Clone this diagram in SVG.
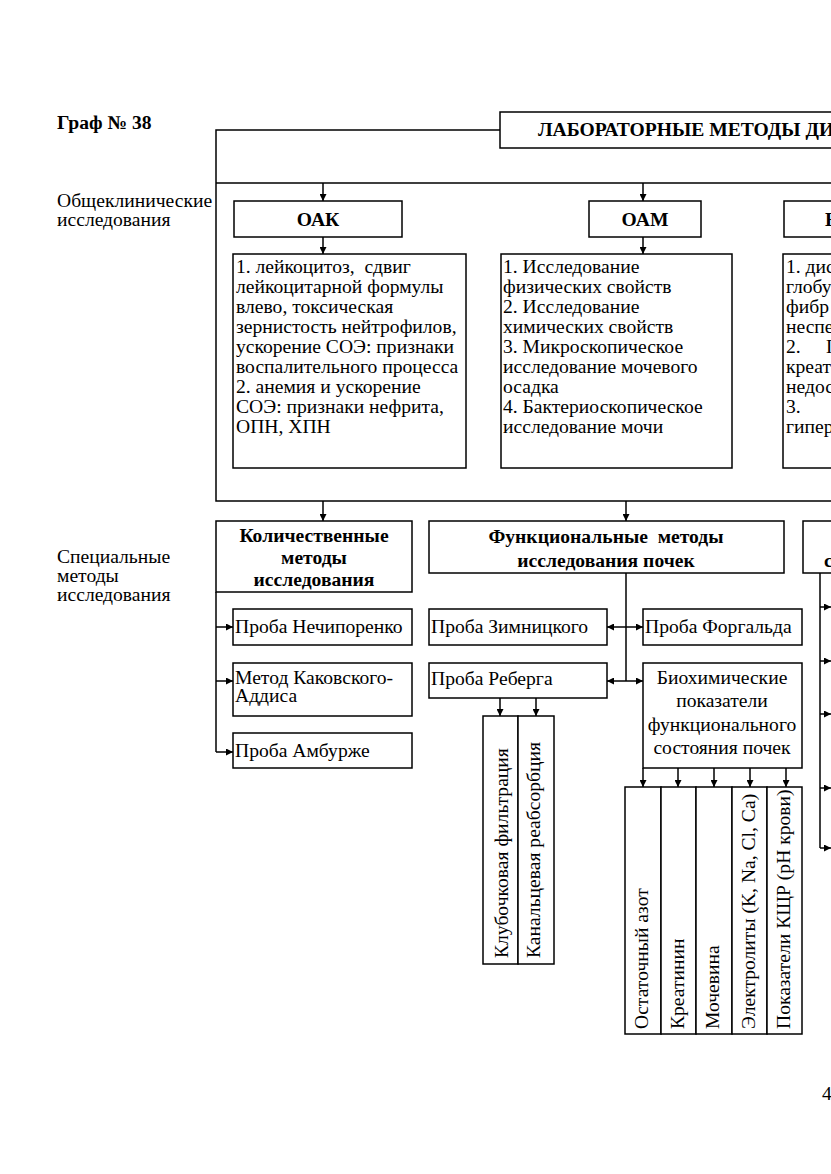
<svg xmlns="http://www.w3.org/2000/svg" width="831" height="1174" viewBox="0 0 831 1174" font-family="'Liberation Serif', 'Times New Roman', serif">
<defs>
<marker id="ah" viewBox="0 0 8 8" refX="8" refY="4" markerWidth="8" markerHeight="7" markerUnits="userSpaceOnUse" orient="auto-start-reverse"><path d="M0,0 L8,4 L0,8 z" fill="#000"/></marker>
</defs>
<style>
text{font-family:"Liberation Serif","Times New Roman",serif;font-size:19.6px;fill:#000}
.b{font-weight:bold}
.c{text-anchor:middle}
.box{fill:#fff;stroke:#000;stroke-width:1.5}
.ln{fill:none;stroke:#000;stroke-width:1.5}
.ar{marker-end:url(#ah)}
.da{marker-start:url(#ah);marker-end:url(#ah)}
</style>
<rect width="831" height="1174" fill="#fff"/>
<text class="b" x="57" y="129">Граф № 38</text>
<g id="labels">
<text x="57" y="207">Общеклинические</text>
<text x="57" y="226">исследования</text>
<text x="57" y="563">Специальные</text>
<text x="57" y="582">методы</text>
<text x="57" y="601">исследования</text>
</g>
<g id="connectors">
<path class="ln" d="M500,130 H216 V501 H840 M216,183 H840"/>
<path class="ln ar" d="M323,183 V201"/>
<path class="ln ar" d="M643,183 V201"/>
<path class="ln ar" d="M323,237 V254"/>
<path class="ln ar" d="M643,237 V254"/>
<path class="ln ar" d="M323,501 V521"/>
<path class="ln ar" d="M626,501 V521"/>
<path class="ln" d="M216,592 V752"/>
<path class="ln ar" d="M216,627 H233"/>
<path class="ln ar" d="M216,681 H233"/>
<path class="ln ar" d="M216,752 H233"/>
<path class="ln" d="M626,573 V681"/>
<path class="ln da" d="M607,627 H643"/>
<path class="ln da" d="M607,681 H643"/>
<path class="ln ar" d="M500,698 V716"/>
<path class="ln ar" d="M536,698 V716"/>
<path class="ln ar" d="M643,768 V787"/>
<path class="ln ar" d="M678,768 V787"/>
<path class="ln ar" d="M714,768 V787"/>
<path class="ln ar" d="M750,768 V787"/>
<path class="ln ar" d="M786,768 V787"/>
<path class="ln" d="M820,573 V848"/>
<path class="ln ar" d="M820,607 H831"/>
<path class="ln ar" d="M820,661 H831"/>
<path class="ln ar" d="M820,714 H831"/>
<path class="ln ar" d="M820,788 H831"/>
<path class="ln ar" d="M820,848 H831"/>
</g>
<g id="main">
<rect class="box" x="500" y="112" width="360" height="36"/>
<text class="b" x="538" y="136">ЛАБОРАТОРНЫЕ МЕТОДЫ ДИ</text>
</g>
<g id="oak">
<rect class="box" x="234" y="201" width="168" height="36"/>
<text class="b c" x="318" y="226">ОАК</text>
</g>
<g id="oam">
<rect class="box" x="589" y="201" width="112" height="36"/>
<text class="b c" x="645" y="226">ОАМ</text>
</g>
<g id="bak">
<rect class="box" x="784" y="201" width="120" height="36"/>
<text class="b" x="825" y="226">Б</text>
</g>
<g id="oak-details">
<rect class="box" x="233" y="254" width="233" height="214"/>
<text x="236" y="273">1. лейкоцитоз,&#160; сдвиг</text>
<text x="236" y="293">лейкоцитарной формулы</text>
<text x="236" y="313">влево, токсическая</text>
<text x="236" y="333">зернистость нейтрофилов,</text>
<text x="236" y="353">ускорение СОЭ: признаки</text>
<text x="236" y="373">воспалительного процесса</text>
<text x="236" y="393">2. анемия и ускорение</text>
<text x="236" y="413">СОЭ: признаки нефрита,</text>
<text x="236" y="433">ОПН, ХПН</text>
</g>
<g id="oam-details">
<rect class="box" x="501" y="254" width="231" height="214"/>
<text x="503" y="273">1. Исследование</text>
<text x="503" y="293">физических свойств</text>
<text x="503" y="313">2. Исследование</text>
<text x="503" y="333">химических свойств</text>
<text x="503" y="353">3. Микроскопическое</text>
<text x="503" y="373">исследование мочевого</text>
<text x="503" y="393">осадка</text>
<text x="503" y="413">4. Бактериоскопическое</text>
<text x="503" y="433">исследование мочи</text>
</g>
<g id="bak-details">
<rect class="box" x="783" y="254" width="80" height="214"/>
<text x="786" y="273">1. дис</text>
<text x="786" y="293">глобу</text>
<text x="786" y="313">фибр</text>
<text x="786" y="333">неспе</text>
<text x="786" y="353">2.</text>
<text x="826" y="353">П</text>
<text x="786" y="373">креат</text>
<text x="786" y="393">недос</text>
<text x="786" y="413">3.</text>
<text x="786" y="433">гипер</text>
</g>
<g id="quant">
<rect class="box" x="216" y="521" width="196" height="71"/>
<text class="b c" x="314" y="542">Количественные</text>
<text class="b c" x="314" y="564">методы</text>
<text class="b c" x="314" y="586">исследования</text>
</g>
<g id="nechiporenko">
<rect class="box" x="233" y="609" width="179" height="36"/>
<text x="235" y="633">Проба Нечипоренко</text>
</g>
<g id="kakovsky">
<rect class="box" x="233" y="663" width="179" height="53"/>
<text x="235" y="684">Метод Каковского-</text>
<text x="235" y="702">Аддиса</text>
</g>
<g id="amburzhe">
<rect class="box" x="233" y="733" width="179" height="35"/>
<text x="235" y="757">Проба Амбурже</text>
</g>
<g id="func">
<rect class="box" x="429" y="521" width="355" height="52"/>
<text class="b c" x="606" y="543">Функциональные&#160; методы</text>
<text class="b c" x="606" y="567">исследования почек</text>
</g>
<g id="zimnitsky">
<rect class="box" x="429" y="609" width="178" height="36"/>
<text x="431" y="633">Проба Зимницкого</text>
</g>
<g id="forgald">
<rect class="box" x="643" y="609" width="159" height="36"/>
<text x="645" y="633">Проба Форгальда</text>
</g>
<g id="reberg">
<rect class="box" x="429" y="663" width="178" height="35"/>
<text x="431" y="685">Проба Реберга</text>
</g>
<g id="biochem">
<rect class="box" x="643" y="663" width="159" height="105"/>
<text class="c" x="722" y="684">Биохимические</text>
<text class="c" x="722" y="707">показатели</text>
<text class="c" x="722" y="731">функционального</text>
<text class="c" x="722" y="754">состояния почек</text>
</g>
<g id="filtration">
<rect class="box" x="483" y="716" width="35" height="248"/>
<text transform="rotate(-90 508 958)" x="508" y="958">Клубочковая фильтрация</text>
</g>
<g id="reabsorption">
<rect class="box" x="518" y="716" width="36" height="248"/>
<text transform="rotate(-90 540 958)" x="540" y="958">Канальцевая реабсорбция</text>
</g>
<g id="azot">
<rect class="box" x="625" y="787" width="36" height="247"/>
<text transform="rotate(-90 648 1029)" x="648" y="1029">Остаточный азот</text>
</g>
<g id="kreatinin">
<rect class="box" x="661" y="787" width="35" height="247"/>
<text transform="rotate(-90 684 1029)" x="684" y="1029">Креатинин</text>
</g>
<g id="mochevina">
<rect class="box" x="696" y="787" width="36" height="247"/>
<text transform="rotate(-90 719 1029)" x="719" y="1029">Мочевина</text>
</g>
<g id="electrolytes">
<rect class="box" x="732" y="787" width="35" height="247"/>
<text transform="rotate(-90 755 1029)" x="755" y="1029">Электролиты (K, Na, Cl, Ca)</text>
</g>
<g id="kshr">
<rect class="box" x="767" y="787" width="35" height="247"/>
<text transform="rotate(-90 790 1029)" x="790" y="1029">Показатели КЩР (pH крови)</text>
</g>
<g id="right-header">
<rect class="box" x="803" y="521" width="60" height="52"/>
<text class="b" x="824" y="567">с</text>
</g>
<text x="822" y="1100">4</text>
</svg>
